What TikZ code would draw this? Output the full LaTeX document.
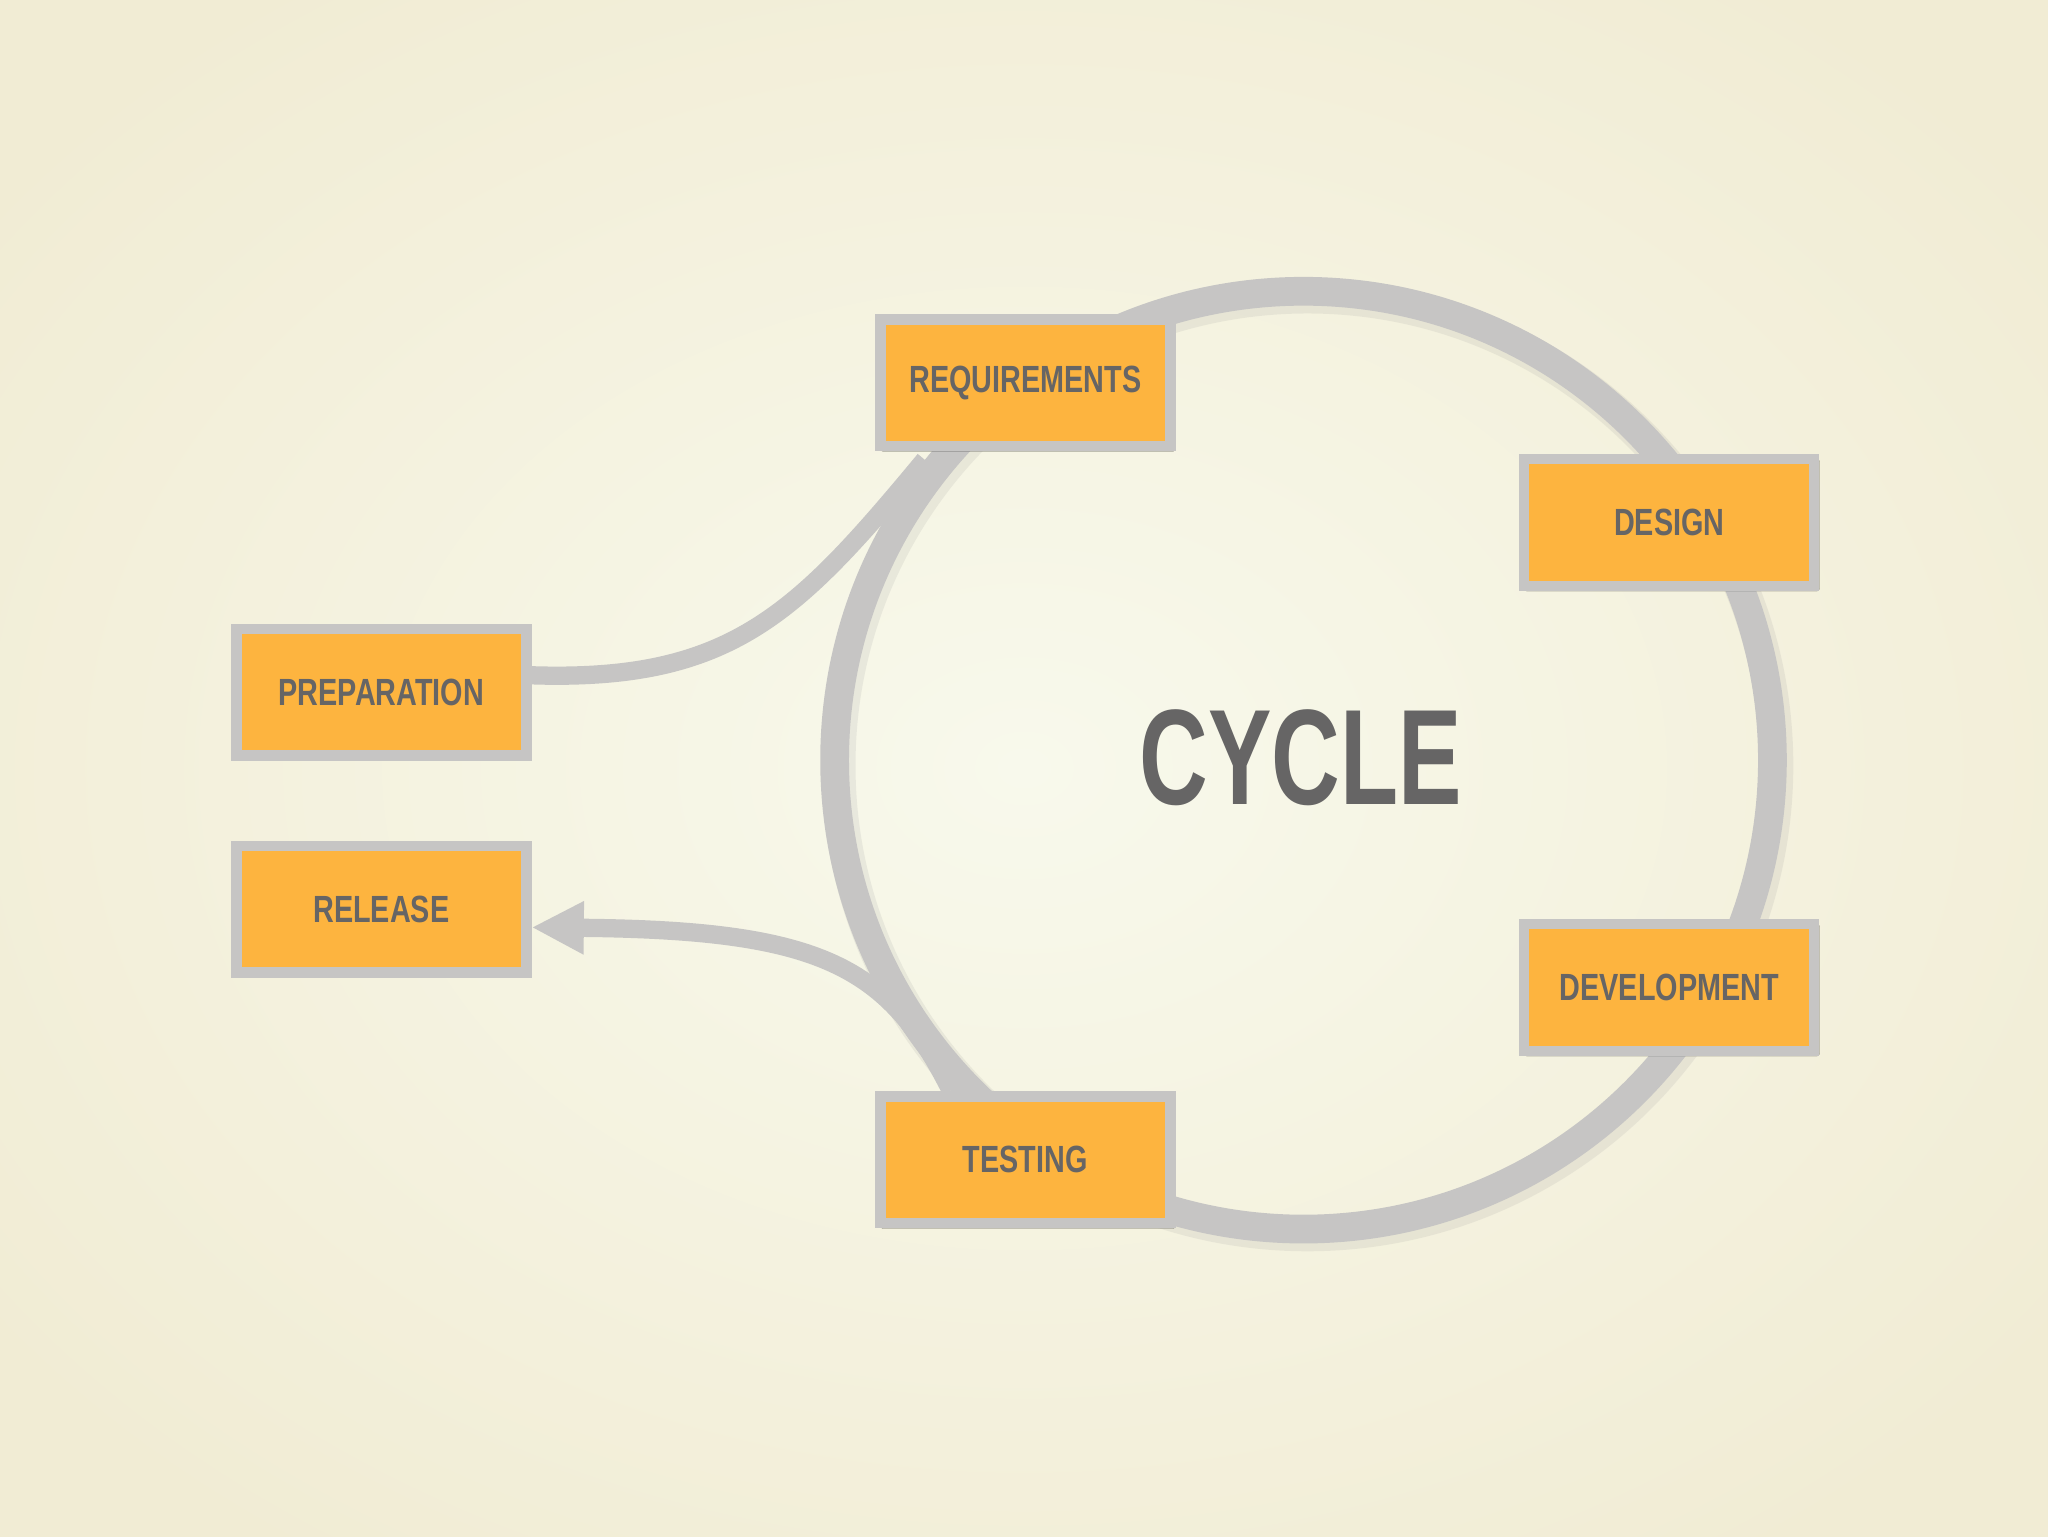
\documentclass[tikz,border=0pt]{standalone}
\usepackage{fontspec}
\setmainfont{Liberation Sans}
\usetikzlibrary{shadows.blur,arrows.meta}
\definecolor{bgc}{HTML}{F8F9EC}
\definecolor{bge}{HTML}{F1ECD4}
\definecolor{boxo}{HTML}{FDB43F}
\definecolor{ring}{HTML}{C6C5C4}
\definecolor{txt}{HTML}{666565}
\tikzset{
  stage/.style={draw=ring,line width=8pt,fill=boxo,minimum width=222pt,minimum height=97pt,
    font=\fontsize{29}{30}\selectfont\bfseries,text=txt,inner sep=0pt,
    blur shadow={shadow blur steps=6,shadow xshift=2pt,shadow yshift=-2pt,shadow opacity=25}},
  link/.style={draw=ring,line width=14pt},
}
\newcommand{\nar}[1]{\scalebox{0.76}[1]{#1}}
\newcommand{\narc}[1]{\scalebox{0.7}[1]{#1}}
\begin{document}
\begin{tikzpicture}[x=1pt,y=-1pt]
\useasboundingbox (0,0) rectangle (1568,1176);
\begin{scope}
\clip (0,0) rectangle (1568,1176);
\fill[bgc] (0,0) rectangle (1568,1176);
\shade[inner color=bgc,outer color=bge] (-200,-150) rectangle (1768,1326);
\end{scope}
% ring shadow
\draw[line width=26pt,black!40,opacity=0.15] (1001,586) circle[radius=359];
\draw[line width=22pt,ring] (998,582) circle[radius=359];
\node (c) at (998,582) {};
\coordinate (r1) at (708,352);
\coordinate (r2) at (728,835);
% central text
\node (cyc) [text=txt,font=\fontsize{104}{104}\selectfont\bfseries] at (996,580) {\narc{CYCLE}};
% connectors
\node[stage] (prep) at (292,530) {\nar{PREPARATION}};
\node[stage] (rel) at (292,696) {\nar{RELEASE}};
\draw[link] (prep.east|-0,517) .. controls (560,522) and (610,470) .. (r1);
\draw[link,-{Triangle[length=40pt,width=38pt]}] (r2) .. controls (680,740) and (630,712) .. (rel.east|-0,710);
\node[stage] (req) at (785,293) {\nar{REQUIREMENTS}};
\node[stage] (des) at (1278,400) {\nar{DESIGN}};
\node[stage] (dev) at (1278,756) {\nar{DEVELOPMENT}};
\node[stage] (test) at (785,888) {\nar{TESTING}};
\end{tikzpicture}
\end{document}
